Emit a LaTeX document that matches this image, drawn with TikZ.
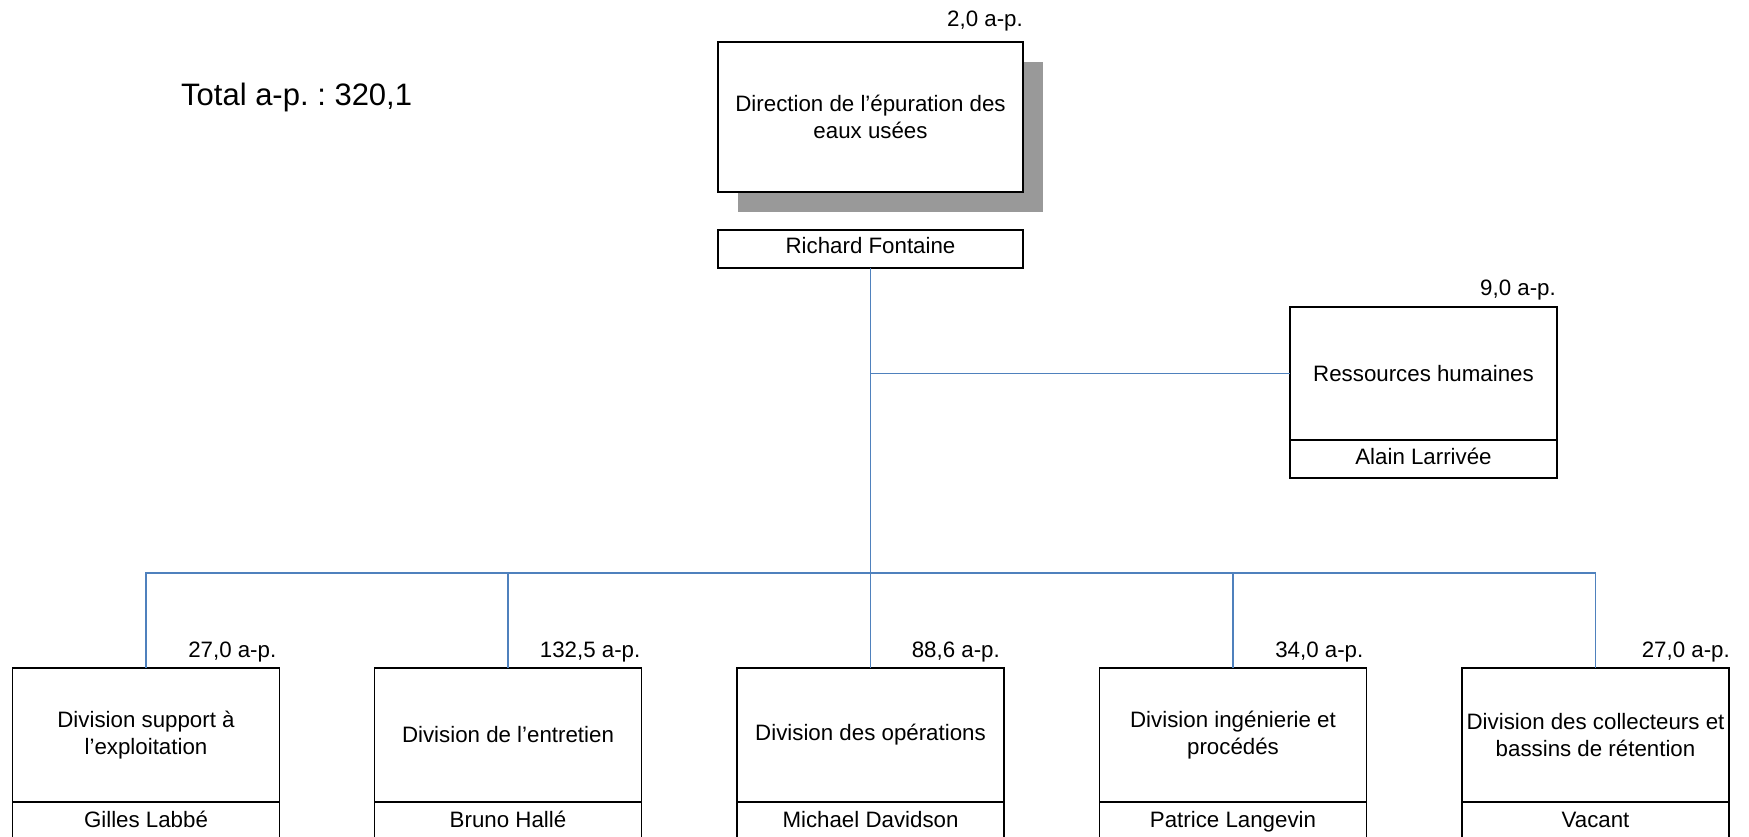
\documentclass[tikz,border=0pt]{standalone}
\usepackage{fontspec}
\setmainfont{Liberation Sans}
\usetikzlibrary{positioning, calc, shadows}
\definecolor{linkblue}{RGB}{79, 129, 189}
\definecolor{shadowgray}{gray}{0.6}
\frenchspacing

\begin{document}
\begin{tikzpicture}[x=1pt, y=-1pt,
    unitbox/.style={draw, line width=1.6pt, fill=white, outer sep=0pt, inner sep=0pt,
      minimum width=267pt, minimum height=134pt, align=center,
      font=\fontsize{22.3}{26.5}\selectfont},
    namebox/.style={draw, line width=1.6pt, fill=white, outer sep=0pt, inner sep=0pt,
      minimum width=267pt, minimum height=38pt, text height=16pt, text depth=6pt,
      font=\fontsize{22.3}{26.5}\selectfont},
    aplabel/.style={anchor=base east, inner sep=0pt, font=\fontsize{22.3}{26.5}\selectfont},
    link/.style={draw=linkblue, line width=1.4pt}]
  \useasboundingbox (0, 0) rectangle (1749, 837);

  \node[anchor=base west, inner sep=0pt, font=\fontsize{31}{36}\selectfont] (total) at (181, 106) {Total a-p. : 320,1};

  % direction
  \node[unitbox, minimum width=305pt, minimum height=150pt,
    drop shadow={shadow xshift=20pt, shadow yshift=-20pt, fill=shadowgray, opacity=1}]
    (dir) at (870.5, 117) {Direction de l’épuration des\\eaux usées};
  \node[namebox, minimum width=305pt, below=38pt of dir] (rf) {Richard Fontaine};
  \node[aplabel] (apdir) at ($(dir.north east) + (0, -15)$) {2,0 a-p.};

  % ressources humaines
  \node[unitbox, minimum height=133pt] (rh) at (1423.5, 373.5) {Ressources humaines};
  \node[namebox, below=0pt of rh] (rhname) {Alain Larrivée};
  \node[aplabel] (aprh) at ($(rh.north east) + (-1, -12)$) {9,0 a-p.};

  % divisions
  \node[unitbox] (div1) at (146, 735) {Division support à\\l’exploitation};
  \node[unitbox] (div2) at (508, 735) {Division de l’entretien};
  \node[unitbox] (div3) at (870.5, 735) {Division des opérations};
  \node[unitbox] (div4) at (1233, 735) {Division ingénierie et\\procédés};
  \node[unitbox] (div5) at (1595.5, 735) {Division des collecteurs et\\bassins de rétention};

  \node[namebox, minimum height=40pt, below=0pt of div1] (name1) {Gilles Labbé};
  \node[namebox, minimum height=40pt, below=0pt of div2] (name2) {Bruno Hallé};
  \node[namebox, minimum height=40pt, below=0pt of div3] (name3) {Michael Davidson};
  \node[namebox, minimum height=40pt, below=0pt of div4] (name4) {Patrice Langevin};
  \node[namebox, minimum height=40pt, below=0pt of div5] (name5) {Vacant};

  \node[aplabel] (ap1) at ($(div1.north east) + (-3, -11)$) {27,0 a-p.};
  \node[aplabel] (ap2) at ($(div2.north east) + (-1, -11)$) {132,5 a-p.};
  \node[aplabel] (ap3) at ($(div3.north east) + (-4, -11)$) {88,6 a-p.};
  \node[aplabel] (ap4) at ($(div4.north east) + (-3, -11)$) {34,0 a-p.};
  \node[aplabel] (ap5) at ($(div5.north east) + (1, -11)$) {27,0 a-p.};

  % links
  \coordinate (bus) at (870.5, 573);
  \draw[link] (rf.south) -- (div3.north);
  \draw[link] (rf.south |- rh.west) -- (rh.west);
  \draw[link] (div1.north) -- (div1.north |- bus) -- (div5.north |- bus) -- (div5.north);
  \draw[link] (div2.north |- bus) -- (div2.north);
  \draw[link] (div4.north |- bus) -- (div4.north);
\end{tikzpicture}
\end{document}
